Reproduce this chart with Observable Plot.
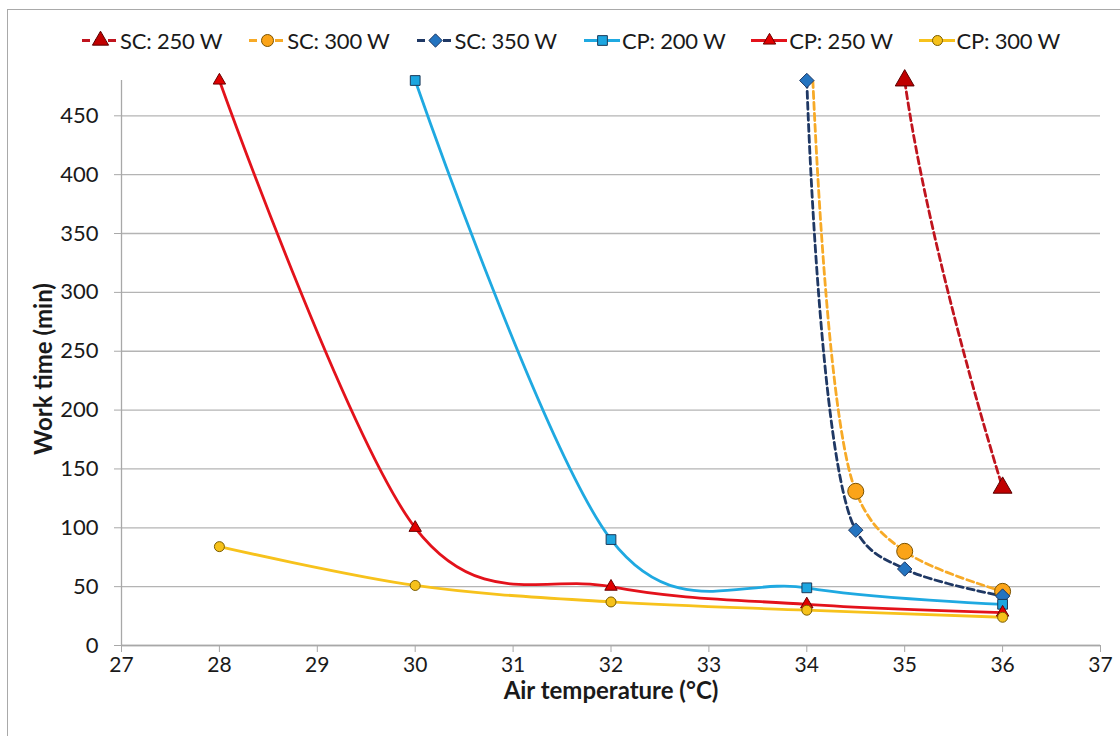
<!DOCTYPE html>
<html><head><meta charset="utf-8">
<script src="https://cdn.jsdelivr.net/npm/d3@7"></script>
<script src="https://cdn.jsdelivr.net/npm/@observablehq/plot@0.6"></script>
<style>
body{margin:0;background:#fff;font-family:Lato,"Open Sans",sans-serif;width:1120px;height:736px;overflow:hidden;position:relative;}
#frame{position:absolute;left:7px;top:9px;width:1200px;height:800px;border:1.5px solid #a9a9a9;box-sizing:border-box;z-index:10;pointer-events:none;}
#legend{position:absolute;left:0;top:0;width:1120px;height:60px;}
.item{position:absolute;top:28px;height:24px;display:flex;align-items:center;font-size:22px;color:#1a1a1a;white-space:nowrap;letter-spacing:-0.2px;}
.item svg{margin-right:2px;}
#chart{position:absolute;left:0;top:60px;}
</style></head><body>
<div id="legend"></div>
<div id="chart"></div>
<div id="frame"></div>
<script>
// ---- data ----
const seriesNames = ["SC: 250 W","SC: 300 W","SC: 350 W","CP: 200 W","CP: 250 W","CP: 300 W"];
// SC series: first value of SC 250/300 lies above the axis maximum (line leaves the plot)
const sc250Temp = [34.5, 35, 36];
const sc250Time = [1450, 480, 134];
const sc300Temp = [34, 34.5, 35, 36];
const sc300Time = [620, 131, 80, 46];
const sc350Temp = [34, 34.5, 35, 36];
const sc350Time = [480, 98, 65, 42];
const cpTemp = [28, 30, 32, 34, 36];
const cp200Time = [null, 480, 90, 49, 35];
const cp250Time = [480, 100, 50, 35, 28];
const cp300Time = [84, 51, 37, 30, 24];
const xTicks = [27,28,29,30,31,32,33,34,35,36,37];
const yTicks = [0,50,100,150,200,250,300,350,400,450];
const yMax = 480;

// ---- styles ----
const styles = [
  {line:"#C0141E", dash:"7,4", curve:"catmull-rom", symbol:"triangle", fill:"#C00000", mstroke:"#5a0000", r:7},
  {line:"#F7AA27", dash:"7,4", curve:"catmull-rom", symbol:"circle", fill:"#FBA418", mstroke:"#7a5200", r:8},
  {line:"#1F3864", dash:"7,4", curve:"catmull-rom", symbol:"diamond2", fill:"#2474C0", mstroke:"#1F3864", r:6.5},
  {line:"#1FA9E1", dash:null, curve:"cardinal", symbol:"square", fill:"#1CA6E0", mstroke:"#1b3a5a", r:5.5},
  {line:"#E3121B", dash:null, curve:"cardinal", symbol:"triangle", fill:"#E00000", mstroke:"#6a0000", r:4.6},
  {line:"#F7C21C", dash:null, curve:"cardinal", symbol:"circle", fill:"#F6C11A", mstroke:"#7a5c00", r:5}
];

function rows(xs, ys){ return xs.map((x,i)=>({x, y: ys[i]})).filter(d=>d.y!=null); }
const data = [
  rows(sc250Temp, sc250Time),
  rows(sc300Temp, sc300Time),
  rows(sc350Temp, sc350Time),
  rows(cpTemp, cp200Time),
  rows(cpTemp, cp250Time),
  rows(cpTemp, cp300Time)
];

const marks = [
  Plot.gridY(yTicks, {stroke:"#b4b4b4", strokeOpacity:1, strokeWidth:1.3}),
  Plot.ruleX([27], {stroke:"#a8a8a8", strokeWidth:1.3}),
  Plot.ruleY([0], {stroke:"#a8a8a8", strokeWidth:1.3}),
  Plot.axisY(yTicks, {tickSize:7, tickPadding:16, fontSize:22, stroke:"#a8a8a8", fill:"#1a1a1a", label:null}),
  Plot.axisX(xTicks, {tickSize:7, tickPadding:5, fontSize:21, stroke:"#a8a8a8", fill:"#1a1a1a", label:null}),
  Plot.text(["Work time (min)"], {text:d=>d, frameAnchor:"left", textAnchor:"middle", lineAnchor:"middle", dx:-77, dy:6, rotate:-90, fontWeight:"bold", fontSize:24, fill:"#1a1a1a"}),
  Plot.text(["Air temperature (°C)"], {text:d=>d, frameAnchor:"bottom", textAnchor:"middle", lineAnchor:"middle", dy:46, fontWeight:"bold", fontSize:24, fill:"#1a1a1a"})
];
data.forEach((d,i)=>{
  const s = styles[i];
  marks.push(Plot.line(d, {x:"x", y:"y", curve:s.curve, stroke:s.line, strokeWidth:2.8, strokeDasharray:s.dash, clip:true}));
});
data.forEach((d,i)=>{
  const s = styles[i];
  marks.push(Plot.dot(d.filter(p=>p.y<=yMax), {x:"x", y:"y", symbol:()=>s.symbol, r:s.r, fill:s.fill, stroke:s.mstroke, strokeWidth:1}));
});

const chart = Plot.plot({
  width:1120, height:676,
  marginLeft:121, marginRight:20, marginTop:20, marginBottom:91,
  x:{domain:[27,37], axis:null},
  y:{domain:[0,yMax], axis:null},
  symbol:{type:"identity"},
  style:{fontFamily:"Lato, 'Open Sans', sans-serif", background:"transparent", color:"#1a1a1a"},
  marks
});
document.getElementById("chart").appendChild(chart);

// ---- legend ----
const legend = document.getElementById("legend");
seriesNames.forEach((name,i)=>{
  const s = styles[i];
  const item = document.createElement("div");
  item.className = "item";
  item.style.left = (82 + i*167.3) + "px";
  const sw = Plot.plot({
    width:36, height:24, margin:0,
    x:{domain:[0,36], axis:null}, y:{domain:[0,24], axis:null},
    symbol:{type:"identity"},
    style:{background:"transparent", overflow:"visible"},
    marks:[
      Plot.ruleY([12], {x1:0, x2:36, stroke:s.line, strokeWidth:2.8, strokeDasharray:s.dash ? "8,5" : null}),
      Plot.dot([{x:18,y:12}], {x:"x", y:"y", symbol:()=>s.symbol, r:Math.min(s.r,6), fill:s.fill, stroke:s.mstroke, strokeWidth:1})
    ]
  });
  item.appendChild(sw);
  const t = document.createElement("span");
  t.textContent = name;
  item.appendChild(t);
  legend.appendChild(item);
});
</script>
</body></html>
